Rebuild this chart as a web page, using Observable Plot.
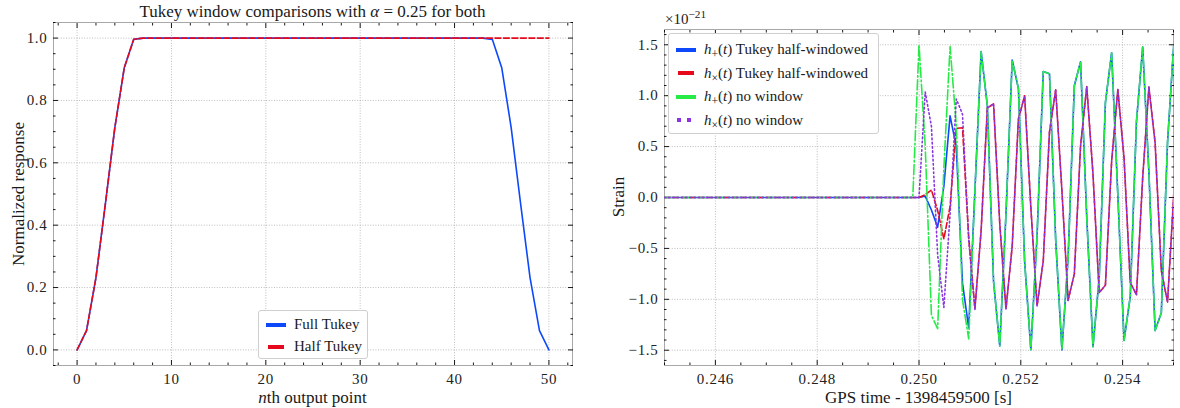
<!DOCTYPE html>
<html>
<head>
<meta charset="utf-8">
<script src="https://cdn.jsdelivr.net/npm/d3@7"></script>
<script src="https://cdn.jsdelivr.net/npm/@observablehq/plot@0.6"></script>
<style>
  body { margin: 0; background: #fff; }
  #fig { position: relative; width: 1180px; height: 408px; font-family: "Liberation Serif", "Times New Roman", serif; color: #1a1a1a; overflow: hidden; }
  #fig svg text { font-family: "Liberation Serif", "Times New Roman", serif !important; }
  #fig svg g[aria-label$="axis tick label"] text { font-size: 15px; letter-spacing: 0.7px; }
  .panel { position: absolute; top: 0; }
  .txt { position: absolute; white-space: nowrap; line-height: 1; }
  .center { transform: translate(-50%, -50%); }
  .vert { transform: translate(-50%, -50%) rotate(-90deg); }
  .legend { position: absolute; background: #fff; border: 1px solid #cfcfcf; border-radius: 3px; font-size: 15px; }
  .legend .row { position: absolute; left: 0; display: flex; align-items: center; white-space: nowrap; line-height: 1; }
  .legend svg { display: block; }
  sub { font-size: 0.78em; vertical-align: -0.3em; line-height: 0; }
  sup { font-size: 0.75em; vertical-align: 0.55em; line-height: 0; }
</style>
</head>
<body>
<div id="fig"></div>
<script>
// ---------- Left panel: Tukey window responses (51 output points) ----------
const outputPoint = [
  0, 1, 2, 3, 4, 5, 6, 7, 8, 9, 10, 11, 12, 13, 14, 15, 16, 17, 18, 19, 20, 21, 22, 23, 24, 25,
  26, 27, 28, 29, 30, 31, 32, 33, 34, 35, 36, 37, 38, 39, 40, 41, 42, 43, 44, 45, 46, 47, 48, 49, 50
];
const fullTukey = [
  0, 0.062, 0.232, 0.469, 0.713, 0.905, 0.996,
  1, 1, 1, 1, 1, 1, 1, 1, 1, 1, 1, 1, 1, 1, 1, 1, 1, 1, 1, 1, 1, 1, 1, 1, 1, 1, 1, 1, 1, 1, 1, 1, 1, 1, 1, 1, 1,
  0.996, 0.905, 0.713, 0.469, 0.232, 0.062, 0
];
const halfTukey = [
  0, 0.062, 0.232, 0.469, 0.713, 0.905, 0.996,
  1, 1, 1, 1, 1, 1, 1, 1, 1, 1, 1, 1, 1, 1, 1, 1, 1, 1, 1, 1, 1, 1, 1, 1, 1, 1, 1, 1, 1, 1, 1, 1, 1, 1, 1, 1, 1,
  1, 1, 1, 1, 1, 1, 1
];
const windowXTicks = [0, 10, 20, 30, 40, 50];
const windowYTicks = [0, 0.2, 0.4, 0.6, 0.8, 1.0];

// ---------- Right panel: strain at 8192 Hz, in units of 1e-21 ----------
const sampleRate = 8192;   // samples per second
const firstSample = 2007;  // index of the first sample after GPS 1398459500
const hPlusHalfTukey = [
  0, 0, 0, 0, 0, 0, 0, 0, 0, 0,
  0, 0, 0, 0, 0, 0, 0, 0, 0, 0,
  0, 0, 0, 0, 0, 0, 0, 0, 0, 0,
  0, 0, 0, 0, 0, 0, 0, 0, 0, 0,
  0,
  0, 0.014, -0.123, -0.291, 0.109, 0.802, 0.499, -0.841, -1.28, 0.066,
  1.433, 0.901, -0.825, -1.458, -0.159, 1.350, 1.070, -0.628, -1.494, -0.380,
  1.238, 1.215, -0.417, -1.497, -0.593, 1.097, 1.333, -0.197, -1.466, -0.792,
  0.932, 1.421, 0.027, -1.403, -0.974, 0.746, 1.477, 0.251, -1.307, -1.133,
  0.542, 1.500
];
const hCrossHalfTukey = [
  0, 0, 0, 0, 0, 0, 0, 0, 0, 0,
  0, 0, 0, 0, 0, 0, 0, 0, 0, 0,
  0, 0, 0, 0, 0, 0, 0, 0, 0, 0,
  0, 0, 0, 0, 0, 0, 0, 0, 0, 0,
  0,
  0, 0.028, 0.074, -0.127, -0.407, -0.089, 0.679, 0.685, -0.391, -1.091,
  -0.325, 0.879, 0.919, -0.259, -1.094, -0.479, 0.771, 0.999, -0.097, -1.064,
  -0.622, 0.645, 1.057, 0.068, -1.010, -0.750, 0.504, 1.090, 0.232, -0.934,
  -0.862, 0.352, 1.060, 0.390, -0.836, -0.955, 0.193, 1.084, 0.539, -0.721,
  -1.026, 0.028
];
const hPlusNoWindow = [
  0, 0, 0, 0, 0, 0, 0, 0, 0, 0,
  0, 0, 0, 0, 0, 0, 0, 0, 0, 0,
  0, 0, 0, 0, 0, 0, 0, 0, 0, 0,
  0, 0, 0, 0, 0, 0, 0, 0, 0, 0,
  0,
  1.5, 0.506, -1.158, -1.288, 0.289, 1.483, 0.712, -1.003, -1.388, 0.066,
  1.433, 0.901, -0.825, -1.458, -0.159, 1.350, 1.070, -0.628, -1.494, -0.380,
  1.238, 1.215, -0.417, -1.497, -0.593, 1.097, 1.333, -0.197, -1.466, -0.792,
  0.932, 1.421, 0.027, -1.403, -0.974, 0.746, 1.477, 0.251, -1.307, -1.133,
  0.542, 1.500
];
const hCrossNoWindow = [
  0, 0, 0, 0, 0, 0, 0, 0, 0, 0,
  0, 0, 0, 0, 0, 0, 0, 0, 0, 0,
  0, 0, 0, 0, 0, 0, 0, 0, 0, 0,
  0, 0, 0, 0, 0, 0, 0, 0, 0, 0,
  0,
  0, 1.036, 0.699, -0.564, -1.079, -0.164, 0.968, 0.818, -0.416, -1.099,
  -0.325, 0.879, 0.919, -0.259, -1.094, -0.479, 0.771, 0.999, -0.097, -1.064,
  -0.622, 0.645, 1.057, 0.068, -1.010, -0.750, 0.504, 1.090, 0.232, -0.934,
  -0.862, 0.352, 1.060, 0.390, -0.836, -0.955, 0.193, 1.084, 0.539, -0.721,
  -1.026, 0.028
];
const strainXTicks = [0.246, 0.248, 0.250, 0.252, 0.254];
const strainYTicks = [-1.5, -1.0, -0.5, 0.0, 0.5, 1.0, 1.5];

// high-visibility colour / dash cycle
const BLUE = "#0d49fb", RED = "#e6091c", GREEN = "#26eb47", PURPLE = "#8936df";
const LW = 1.6;
const DASHED = `${3.7 * LW},${1.6 * LW}`;
const DASHDOT = `${6.4 * LW},${1.6 * LW},${1 * LW},${1.6 * LW}`;
const DOTTED = `${1 * LW},${1.65 * LW}`;
const SERIF = "Liberation Serif, Times New Roman, serif";

const fig = document.getElementById("fig");

// Inward ticks on all four sides, major and minor, plus dotted major grid
function boxedAxes(xMajor, xMinor, yMajor, yMinor, xFmt, yFmt) {
  const blank = () => "";
  const tick = {stroke: "#000", strokeWidth: 0.9, label: null, tickFormat: blank};
  const marks = [
    Plot.gridX(xMajor, {stroke: "#a0a0a0", strokeOpacity: 1, strokeWidth: 0.7, strokeDasharray: "1,1.6"}),
    Plot.gridY(yMajor, {stroke: "#a0a0a0", strokeOpacity: 1, strokeWidth: 0.7, strokeDasharray: "1,1.6"}),
    Plot.frame({stroke: "#a8a8a8", strokeWidth: 1}),
    Plot.axisX(xMajor, {anchor: "bottom", tickSize: 0, tickPadding: 8, tickFormat: xFmt, label: null,
                        fill: "#222", fontFamily: SERIF}),
    Plot.axisY(yMajor, {anchor: "left", tickSize: 0, tickPadding: 6, tickFormat: yFmt, label: null,
                        fill: "#222", fontFamily: SERIF})
  ];
  for (const a of ["bottom", "top"]) {
    marks.push(Plot.axisX(xMajor, {...tick, anchor: a, tickSize: -5}));
    marks.push(Plot.axisX(xMinor, {...tick, anchor: a, tickSize: -2.5}));
  }
  for (const a of ["left", "right"]) {
    marks.push(Plot.axisY(yMajor, {...tick, anchor: a, tickSize: -5}));
    marks.push(Plot.axisY(yMinor, {...tick, anchor: a, tickSize: -2.5}));
  }
  return marks;
}

function minorBetween(lo, hi, step, majors) {
  const out = [];
  for (let i = Math.round(lo / step); i * step <= hi + 1e-12; i++) {
    const v = +(i * step).toFixed(6);
    if (!majors.some(m => Math.abs(m - v) < 1e-9)) out.push(v);
  }
  return out;
}

// ---- left panel ----
const windowRows = outputPoint.flatMap((n, i) => [
  {n, w: fullTukey[i], kind: "Full Tukey"},
  {n, w: halfTukey[i], kind: "Half Tukey"}
]);

const left = Plot.plot({
  width: 590, height: 408,
  marginLeft: 53, marginRight: 18, marginTop: 22, marginBottom: 43,
  style: {fontFamily: SERIF, fontSize: "15px", background: "transparent"},
  x: {domain: [-2.5, 52.5]},
  y: {domain: [-0.05, 1.05]},
  marks: [
    ...boxedAxes(windowXTicks, minorBetween(-2, 52, 2, windowXTicks), windowYTicks,
                 minorBetween(-0.05, 1.05, 0.05, windowYTicks), d3.format("d"), d3.format(".1f")),
    Plot.line(windowRows, {filter: d => d.kind === "Full Tukey", x: "n", y: "w", stroke: BLUE, strokeWidth: LW}),
    Plot.line(windowRows, {filter: d => d.kind === "Half Tukey", x: "n", y: "w", stroke: RED, strokeWidth: LW, strokeDasharray: DASHED})
  ]
});
left.classList.add("panel");
left.style.left = "0px";
fig.appendChild(left);

// ---- right panel ----
const strainSeries = [
  {values: hPlusHalfTukey, stroke: BLUE, dash: null},
  {values: hCrossHalfTukey, stroke: RED, dash: DASHED},
  {values: hPlusNoWindow, stroke: GREEN, dash: DASHDOT},
  {values: hCrossNoWindow, stroke: PURPLE, dash: DOTTED}
];

const right = Plot.plot({
  width: 590, height: 408,
  marginLeft: 74, marginRight: 7, marginTop: 29, marginBottom: 43,
  style: {fontFamily: SERIF, fontSize: "15px", background: "transparent"},
  x: {domain: [0.245, 0.255]},
  y: {domain: [-1.65, 1.65]},
  marks: [
    ...boxedAxes(strainXTicks, minorBetween(0.245, 0.255, 0.0005, strainXTicks), strainYTicks,
                 minorBetween(-1.6, 1.6, 0.1, strainYTicks), d3.format(".3f"), d3.format(".1f")),
    ...strainSeries.map(s => Plot.line(s.values, {
      x: (v, i) => (firstSample + i) / sampleRate,
      y: v => v,
      stroke: s.stroke, strokeWidth: LW, strokeDasharray: s.dash, clip: true
    }))
  ]
});
right.classList.add("panel");
right.style.left = "590px";
fig.appendChild(right);

// ---- text and legends ----
function addText(html, x, y, cls, size) {
  const d = document.createElement("div");
  d.className = "txt " + cls;
  d.style.left = x + "px";
  d.style.top = y + "px";
  d.style.fontSize = size + "px";
  d.innerHTML = html;
  fig.appendChild(d);
}
addText("Tukey window comparisons with <i>α</i> = 0.25 for both", 312.5, 11, "center", 17);
addText("Normalized response", 18, 193.5, "vert", 17);
addText("<i>n</i>th output point", 312.5, 397, "center", 17);
addText("Strain", 618, 197, "vert", 17);
addText("GPS time - 1398459500 [s]", 918.5, 397, "center", 17);
addText("×10<sup>−21</sup>", 665, 12, "", 15);

// legend handle: thick short line; x-extent and dash vary per style
function swatch(color, x1, x2, dash) {
  const s = d3.create("svg").attr("width", 26).attr("height", 10);
  s.append("line").attr("x1", x1).attr("x2", x2).attr("y1", 5).attr("y2", 5)
    .attr("stroke", color).attr("stroke-width", 4)
    .attr("stroke-dasharray", dash);
  return s.node();
}

function addLegend(x, y, w, h, items, rowTop, rowGap) {
  const box = document.createElement("div");
  box.className = "legend";
  Object.assign(box.style, {left: x + "px", top: y + "px", width: w + "px", height: h + "px"});
  items.forEach((it, i) => {
    const row = document.createElement("div");
    row.className = "row";
    row.style.top = (rowTop + i * rowGap) + "px";
    row.style.left = "4px";
    row.appendChild(swatch(it.color, it.x1, it.x2, it.dash));
    const label = document.createElement("span");
    label.style.marginLeft = "5px";
    label.innerHTML = it.label;
    row.appendChild(label);
    box.appendChild(row);
  });
  fig.appendChild(box);
}

addLegend(258, 310, 108, 47, [
  {label: "Full Tukey", color: BLUE, x1: 3, x2: 23, dash: null},
  {label: "Half Tukey", color: RED, x1: 5, x2: 21, dash: null}
], 6, 22);

addLegend(668, 33, 209, 99, [
  {label: "<i>h</i><sub>+</sub>(<i>t</i>) Tukey half-windowed", color: BLUE, x1: 3, x2: 23, dash: null},
  {label: "<i>h</i><sub>×</sub>(<i>t</i>) Tukey half-windowed", color: RED, x1: 5, x2: 21, dash: null},
  {label: "<i>h</i><sub>+</sub>(<i>t</i>) no window", color: GREEN, x1: 3, x2: 23, dash: null},
  {label: "<i>h</i><sub>×</sub>(<i>t</i>) no window", color: PURPLE, x1: 4, x2: 22, dash: "4,6"}
], 8, 23.5);
</script>
</body>
</html>
